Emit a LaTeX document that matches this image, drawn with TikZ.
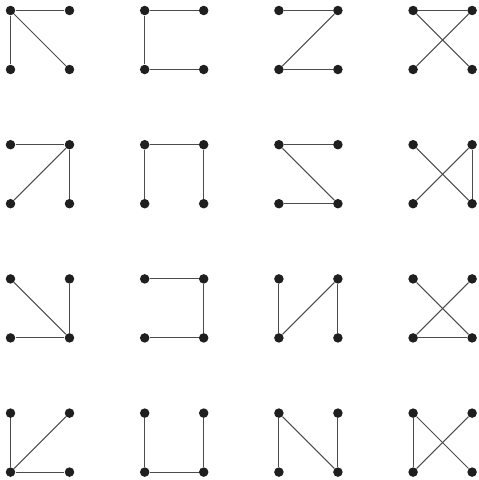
\documentclass[tikz,border=0pt]{standalone}
\usepackage{tikz}

\begin{document}
\begin{tikzpicture}[x=0.02cm, y=-0.02cm,
  vertex/.style={circle, fill=black!88, inner sep=0pt, minimum size=0.19cm},
  edge/.style={draw=black!70, line width=0.6pt}]
\useasboundingbox (0,0) rectangle (479,480);
% corners of each little square: a b on top, c d below
\foreach \r/\c/\edges in {
    1/1/{a/b,a/c,a/d}, 1/2/{a/b,a/c,c/d}, 1/3/{a/b,b/c,c/d}, 1/4/{a/b,a/d,b/c},
    2/1/{a/b,b/c,b/d}, 2/2/{a/b,a/c,b/d}, 2/3/{a/b,a/d,c/d}, 2/4/{a/d,b/c,b/d},
    3/1/{a/d,b/d,c/d}, 3/2/{a/b,b/d,c/d}, 3/3/{a/c,b/c,b/d}, 3/4/{a/d,b/c,c/d},
    4/1/{a/c,b/c,c/d}, 4/2/{a/c,b/d,c/d}, 4/3/{a/c,a/d,b/d}, 4/4/{a/c,a/d,b/c}}
{
  \pgfmathsetmacro{\xa}{10.5+134.2*(\c-1)}
  \pgfmathsetmacro{\ya}{10.5+134.2*(\r-1)}
  \node[vertex] (g\r\c a) at (\xa,\ya) {};
  \node[vertex] (g\r\c b) at (\xa+59,\ya) {};
  \node[vertex] (g\r\c c) at (\xa,\ya+59) {};
  \node[vertex] (g\r\c d) at (\xa+59,\ya+59) {};
  % the three edges of this path
  \foreach \u/\v in \edges
    \draw[edge] (g\r\c\u) -- (g\r\c\v);
}
\end{tikzpicture}
\end{document}
